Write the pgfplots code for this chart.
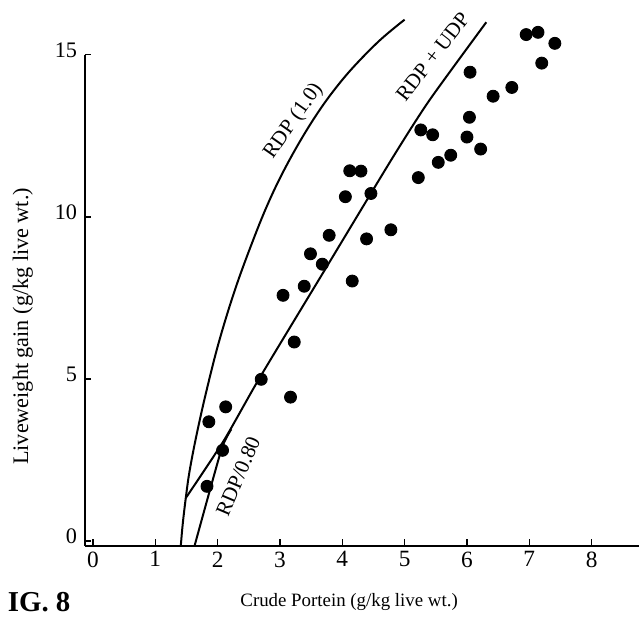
\documentclass[border=0pt]{standalone}
\usepackage{fontspec}
\setmainfont{Liberation Serif}
\usepackage{pgfplots}
\pgfplotsset{compat=1.18}

\begin{document}
\begin{tikzpicture}
\begin{axis}[
  scale only axis,
  width=249.75pt, height=221.4pt,
  xmin=-0.13, xmax=8.76,
  ymin=-0.15, ymax=15,
  axis lines=left,
  axis line style={-, line width=0.9pt},
  clip=false,
  xtick={0,1,...,8}, ytick={0,5,10,15},
  tick style={black, line width=0.6pt},
  major tick length=3pt,
  tick align=inside,
  /pgf/number format/assume math mode=true,
  xticklabel style={font=\fontsize{10.5}{12}\selectfont, yshift=1pt},
  yticklabel style={font=\fontsize{10}{12}\selectfont, yshift=2pt},
  xlabel={Crude Portein (g/kg live wt.)},
  ylabel={Liveweight gain (g/kg live wt.)},
  xlabel style={at={(axis description cs:0.477,-0.114)}, anchor=center, font=\fontsize{8.5}{10}\selectfont},
  ylabel style={at={(axis description cs:-0.112,0.447)}, anchor=center, font=\fontsize{10}{12}\selectfont},
]
% RDP (1.0)
\addplot[black, line width=0.9pt, smooth, tension=0.6] coordinates {
  (1.41,-0.15) (1.44,0.51) (1.49,1.33) (1.55,2.15) (1.66,3.25) (1.82,4.62)
  (2.03,6.20) (2.30,7.87) (2.61,9.48) (2.83,10.50) (3.05,11.38) (3.31,12.29)
  (3.58,13.13) (3.85,13.86) (4.17,14.60) (4.60,15.44) (5.00,16.08)
};
% RDP + UDP
\addplot[black, line width=0.9pt, smooth, tension=0.4] coordinates {
  (1.49,1.33) (2.10,3.10) (2.67,5.02) (3.70,8.30) (4.80,11.80) (5.40,13.60) (6.31,16.00)
};
% RDP/0.80
\addplot[black, line width=0.9pt, smooth, tension=0.3] coordinates {
  (1.63,-0.15) (2.06,2.82) (2.22,3.45)
};
% observations
\addplot[only marks, mark=*, mark size=2.7pt, black] coordinates {
  (1.83,1.69) (1.86,3.68) (2.08,2.80) (2.13,4.14) (2.70,4.99) (3.17,4.44)
  (3.23,6.14) (3.05,7.58) (3.39,7.86) (3.49,8.86) (3.68,8.54) (3.79,9.43)
  (4.05,10.62) (4.12,11.42) (4.30,11.41) (4.16,8.02) (4.39,9.32) (4.46,10.72)
  (4.78,9.60) (5.22,11.21) (5.26,12.68) (5.45,12.53) (5.54,11.68) (5.74,11.90)
  (6.00,12.46) (6.04,13.07) (6.05,14.46) (6.22,12.09) (6.42,13.72) (6.72,13.99)
  (6.95,15.62) (7.14,15.69) (7.41,15.35) (7.20,14.74)
};
\node[rotate=55, font=\fontsize{9.5}{11}\selectfont] at (axis cs:3.22,12.95) {RDP (1.0)};
\node[rotate=52, font=\fontsize{9.5}{11}\selectfont] at (axis cs:5.45,14.95) {RDP + UDP};
\node[rotate=67, font=\fontsize{9.5}{11}\selectfont] at (axis cs:2.33,2.0) {RDP/0.80};
\node[anchor=west, font=\fontsize{13}{15}\selectfont\bfseries] at (axis description cs:-0.153,-0.114) {IG. 8};
\path (rel axis cs:-0.153,-0.136) rectangle (rel axis cs:1,1.1016);
\end{axis}
\end{tikzpicture}
\end{document}
